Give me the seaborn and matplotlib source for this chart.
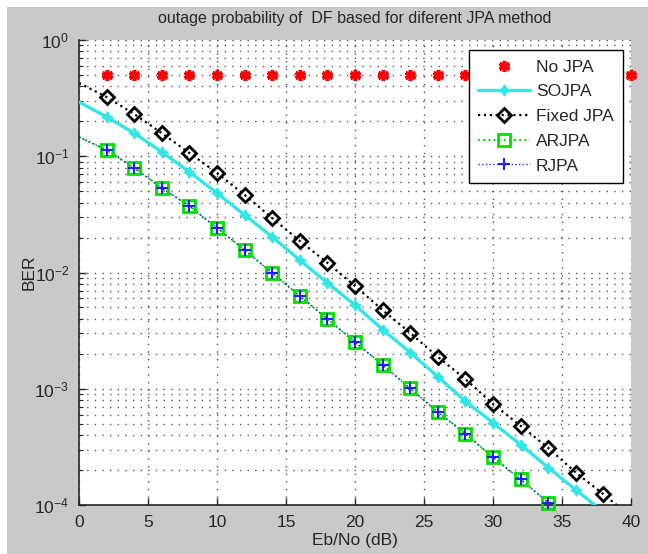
import numpy as np
import pandas as pd
import matplotlib.pyplot as plt
import matplotlib.ticker as mticker
from matplotlib.lines import Line2D
from matplotlib.patches import Rectangle
import seaborn as sns

# Eb/No grid (dB)
snr = [0, 2, 4, 6, 8, 10, 12, 14, 16, 18, 20, 22, 24, 26, 28, 30, 32, 34, 36, 38, 40]

# values
no_jpa = [0.5, 0.5, 0.5, 0.5, 0.5, 0.5, 0.5, 0.5, 0.5, 0.5, 0.5, 0.5, 0.5, 0.5, 0.5,
          0.5, 0.5, 0.5, 0.5, 0.5, 0.5]
sojpa = [0.293, 0.218, 0.158, 0.109, 0.0731, 0.0483, 0.0313, 0.0202, 0.0128, 0.00813,
         0.00525, 0.00323, 0.00205, 0.00127, 0.00078, 0.00051, 0.00033, 0.00021,
         0.000135, 0.000087, 0.000056]
fixed_jpa = [0.427, 0.323, 0.231, 0.158, 0.1067, 0.0718, 0.0465, 0.0294, 0.0187, 0.0121,
             0.00766, 0.00475, 0.00302, 0.00188, 0.00121, 0.00074, 0.00048, 0.00031,
             0.00019, 0.000124, 0.000079]
arjpa = [0.1466, 0.113, 0.0793, 0.0533, 0.0373, 0.0242, 0.0156, 0.0099, 0.00628, 0.00398,
         0.00252, 0.0016, 0.00101, 0.00063, 0.00041, 0.000257, 0.000166, 0.000105,
         0.000066, 0.000042, 0.000027]
rjpa = [0.1466, 0.113, 0.0793, 0.0533, 0.0373, 0.0242, 0.0156, 0.0099, 0.00628, 0.00398,
        0.00252, 0.0016, 0.00101, 0.00063, 0.00041, 0.000257, 0.000166, 0.000105,
        0.000066, 0.000042, 0.000027]

labels = ['No JPA', 'SOJPA', 'Fixed JPA', 'ARJPA', 'RJPA']

sns.set_style('ticks')
plt.rcParams['font.family'] = ['Liberation Sans', 'DejaVu Sans']
plt.rcParams['mathtext.default'] = 'regular'

gray = '#c9c9c9'
fig = plt.figure(figsize=(6.48, 5.54), dpi=100, facecolor='white')
fig.patches.append(Rectangle((7 / 648, 0), 1, 1 - 7 / 554, transform=fig.transFigure,
                             facecolor=gray, edgecolor='none', zorder=-10))
ax = fig.add_axes([79 / 648, 49 / 554, 552 / 648, 465 / 554])
ax.set_facecolor('white')
ax.set_yscale('log')

df = pd.DataFrame({'snr': snr, 'no': no_jpa, 'so': sojpa, 'fixed': fixed_jpa,
                   'ar': arjpa, 'r': rjpa})
lo, hi = 1e-4, 1.0


def markers(col):
    d = df[(df['snr'] > 0) & (df[col] >= lo * 0.97) & (df[col] <= hi)]
    return d['snr'], d[col]


# lines (clipped to the axes)
sns.lineplot(data=df, x='snr', y='fixed', ax=ax, color='black', linestyle=':',
             linewidth=1.6, zorder=2)
sns.lineplot(data=df, x='snr', y='ar', ax=ax, color='#00e000', linestyle=':',
             linewidth=1.4, zorder=2)
sns.lineplot(data=df, x='snr', y='r', ax=ax, color='#2020ff', linestyle=':',
             linewidth=1.0, zorder=2)
sns.lineplot(data=df, x='snr', y='so', ax=ax, color='#33e6e6', linestyle='-',
             linewidth=2.4, zorder=3)

# markers (drawn whole, even on the edges)
star = (6, 2, 0)
x, y = markers('no')
ax.plot(x, y, linestyle='none', marker=star, markersize=8, color='red',
        markeredgewidth=2.6, clip_on=False, zorder=4)
x, y = markers('so')
ax.plot(x, y, linestyle='none', marker=(4, 1, 0), markersize=8, color='#33e6e6',
        clip_on=False, zorder=4)
x, y = markers('fixed')
ax.plot(x, y, linestyle='none', marker='D', markersize=7.5, markerfacecolor='none',
        markeredgecolor='black', markeredgewidth=2, clip_on=False, zorder=4)
x, y = markers('ar')
ax.plot(x, y, linestyle='none', marker='s', markersize=9, markerfacecolor='none',
        markeredgecolor='#00e000', markeredgewidth=2, clip_on=False, zorder=4)
x, y = markers('r')
ax.plot(x, y, linestyle='none', marker='+', markersize=8, color='#2020ff',
        markeredgewidth=1.5, clip_on=False, zorder=5)

ax.set_xlim(0, 40)
ax.set_ylim(lo, hi)
ax.xaxis.set_major_locator(mticker.MultipleLocator(5))
ax.yaxis.set_major_locator(mticker.LogLocator(base=10, numticks=10))
ax.yaxis.set_minor_locator(mticker.LogLocator(base=10, subs=np.arange(2, 10), numticks=20))
ax.yaxis.set_minor_formatter(mticker.NullFormatter())
dots = (0, (1, 4.5))
ax.grid(which='major', color='0.3', linestyle=dots, linewidth=1.0)
ax.grid(which='minor', axis='y', color='0.35', linestyle=dots, linewidth=1.0)
ax.tick_params(which='major', direction='in', length=5, width=1, labelsize=12.5, pad=7)
ax.tick_params(which='minor', direction='in', length=3, width=0.8)
for s in ['top', 'right']:
    ax.spines[s].set_visible(False)
for s in ['left', 'bottom']:
    ax.spines[s].set_linewidth(1.2)

ax.set_xlabel('Eb/No (dB)', fontsize=12.5, labelpad=2)
ax.set_ylabel('BER', fontsize=12.5, labelpad=-2)
ax.set_title('outage probability of  DF based for diferent JPA method', fontsize=11.5, pad=12)

handles = [
    Line2D([], [], linestyle='none', marker=star, markersize=8, color='red',
           markeredgewidth=2.6),
    Line2D([], [], color='#33e6e6', linewidth=2.4, marker=(4, 1, 0), markersize=8),
    Line2D([], [], color='black', linestyle=':', linewidth=1.6, marker='D', markersize=7.5,
           markerfacecolor='none', markeredgewidth=2),
    Line2D([], [], color='#00e000', linestyle=':', linewidth=1.4, marker='s', markersize=9,
           markerfacecolor='none', markeredgewidth=2),
    Line2D([], [], color='#2020ff', linestyle=':', linewidth=1.0, marker='+', markersize=8,
           markeredgewidth=1.5),
]
leg = ax.legend(handles, labels, loc='upper right', bbox_to_anchor=(0.9855, 0.9785),
                borderaxespad=0, fontsize=12.5, frameon=True, fancybox=False,
                framealpha=1, edgecolor='black', handlelength=3, handletextpad=0.3,
                labelspacing=0.55, borderpad=0.55)
leg.get_frame().set_linewidth(1.0)
leg.set_zorder(10)

fig.savefig('out.png', dpi=100, facecolor=fig.get_facecolor())
